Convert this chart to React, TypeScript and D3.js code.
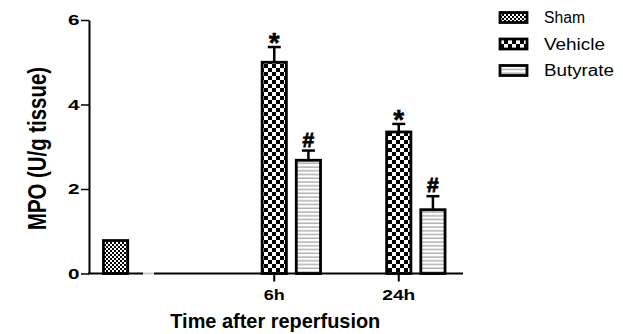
import React, { useRef, useEffect } from 'react'
import * as d3 from 'd3'

const groups = ['', '6h', '24h']
const series = ['Sham', 'Vehicle', 'Butyrate']
const shamValues: (number | null)[] = [0.78, null, null]
const vehicleValues: (number | null)[] = [null, 5.0, 3.35]
const butyrateValues: (number | null)[] = [null, 2.68, 1.51]
const vehicleErrors: (number | null)[] = [null, 0.36, 0.19]
const butyrateErrors: (number | null)[] = [null, 0.23, 0.32]
const vehicleMarks: (string | null)[] = [null, '*', '*']
const butyrateMarks: (string | null)[] = [null, '#', '#']
const yTicks = [0, 2, 4, 6]

const FONT = '"Liberation Sans", Arial, sans-serif'

export default function App() {
  const svgRef = useRef<SVGSVGElement>(null)

  useEffect(() => {
    const width = 623
    const height = 334
    const svg = d3.select(svgRef.current)
    svg.selectAll('*').remove()
    svg.attr('viewBox', `0 0 ${width} ${height}`)

    const defs = svg.append('defs')
    // fine checker for Sham
    const p1 = defs.append('pattern').attr('id', 'pSham').attr('patternUnits', 'userSpaceOnUse')
      .attr('width', 4).attr('height', 4)
    p1.append('rect').attr('width', 4).attr('height', 4).attr('fill', '#fff')
    p1.append('rect').attr('width', 2).attr('height', 2).attr('fill', '#000')
    p1.append('rect').attr('x', 2).attr('y', 2).attr('width', 2).attr('height', 2).attr('fill', '#000')
    // coarse checker for Vehicle
    const p2 = defs.append('pattern').attr('id', 'pVehicle').attr('patternUnits', 'userSpaceOnUse')
      .attr('width', 8).attr('height', 8)
    p2.append('rect').attr('width', 8).attr('height', 8).attr('fill', '#fff')
    p2.append('rect').attr('width', 4).attr('height', 4).attr('fill', '#000')
    p2.append('rect').attr('x', 4).attr('y', 4).attr('width', 4).attr('height', 4).attr('fill', '#000')
    // horizontal lines for Butyrate
    const p3 = defs.append('pattern').attr('id', 'pButyrate').attr('patternUnits', 'userSpaceOnUse')
      .attr('width', 4).attr('height', 3.75)
    p3.append('rect').attr('width', 4).attr('height', 3.75).attr('fill', '#fff')
    p3.append('rect').attr('y', 1.5).attr('width', 4).attr('height', 1).attr('fill', '#8a8a8a')

    const fills: Record<string, string> = {
      Sham: 'url(#pSham)',
      Vehicle: 'url(#pVehicle)',
      Butyrate: 'url(#pButyrate)',
    }

    const y = d3.scaleLinear().domain([0, 6]).range([273.5, 20])
    const x0 = d3.scaleBand().domain(groups).range([98.5, 450]).paddingInner(0.177).paddingOuter(0)
    const x1 = d3.scaleBand().domain(series).range([0, x0.bandwidth()]).paddingInner(0.29).paddingOuter(0.145)
    const bw = x1.bandwidth()

    // y axis
    const yAxis = svg.append('g')
      .attr('transform', 'translate(89,0)')
      .call(d3.axisLeft(y).tickValues(yTicks).tickSize(8).tickSizeOuter(0).tickPadding(1.5).tickFormat(d3.format('d')))
    yAxis.select('.domain').attr('stroke-width', 2)
    yAxis.selectAll('.tick line').attr('stroke-width', 1.5)
    yAxis.selectAll('.tick text')
      .attr('font-family', FONT).attr('font-weight', 'bold').attr('font-size', 15.5)
      .attr('fill', '#000').attr('textLength', 11.5).attr('lengthAdjust', 'spacingAndGlyphs')

    // x baseline (with small break)
    const base = y(0)
    svg.append('line').attr('x1', 88).attr('x2', 143).attr('y1', base).attr('y2', base)
      .attr('stroke', '#000').attr('stroke-width', 2)
    svg.append('line').attr('x1', 143).attr('x2', 154).attr('y1', base).attr('y2', base)
      .attr('stroke', '#ccc').attr('stroke-width', 2)
    svg.append('line').attr('x1', 154).attr('x2', 463).attr('y1', base).attr('y2', base)
      .attr('stroke', '#000').attr('stroke-width', 2)

    // x ticks and labels
    groups.forEach((g) => {
      if (!g) return
      const cx = (x0(g) as number) + (x1('Vehicle') as number) + bw / 2
      svg.append('line').attr('x1', cx).attr('x2', cx).attr('y1', base).attr('y2', base + 8)
        .attr('stroke', '#000').attr('stroke-width', 2)
      svg.append('text').attr('x', cx).attr('y', 299.5).attr('text-anchor', 'middle')
        .attr('font-family', FONT).attr('font-weight', 'bold').attr('font-size', 15.5)
        .attr('textLength', g.length === 2 ? 21 : 33).attr('lengthAdjust', 'spacingAndGlyphs')
        .text(g)
    })

    const seriesData: [string, (number | null)[], (number | null)[] | null, (string | null)[] | null][] = [
      ['Sham', shamValues, null, null],
      ['Vehicle', vehicleValues, vehicleErrors, vehicleMarks],
      ['Butyrate', butyrateValues, butyrateErrors, butyrateMarks],
    ]

    seriesData.forEach(([name, vals, errs, marks]) => {
      vals.forEach((v, i) => {
        if (v == null) return
        const bx = (x0(groups[i]) as number) + (x1(name) as number)
        const cx = bx + bw / 2
        if (errs && errs[i] != null) {
          const et = y(v + (errs[i] as number))
          svg.append('line').attr('x1', cx).attr('x2', cx).attr('y1', y(v)).attr('y2', et)
            .attr('stroke', '#000').attr('stroke-width', 2.5)
          svg.append('line').attr('x1', cx - 6.5).attr('x2', cx + 6.5).attr('y1', et).attr('y2', et)
            .attr('stroke', '#000').attr('stroke-width', 2.5)
          const m = marks ? marks[i] : null
          if (m === '*') {
            svg.append('text').attr('x', cx).attr('y', et + 5).attr('text-anchor', 'middle')
              .attr('font-family', FONT).attr('font-weight', 'bold').attr('font-size', 28)
              .attr('stroke', '#000').attr('stroke-width', 0.5).text(m)
          } else if (m) {
            svg.append('text').attr('x', cx).attr('y', et - 4).attr('text-anchor', 'middle')
              .attr('font-family', FONT).attr('font-weight', 'bold').attr('font-size', 21)
              .attr('stroke', '#000').attr('stroke-width', 0.8).text(m)
          }
        }
        svg.append('rect')
          .attr('x', bx).attr('y', y(v)).attr('width', bw).attr('height', y(0) - y(v))
          .attr('fill', fills[name]).attr('stroke', '#000').attr('stroke-width', 2.8)
      })
    })

    // axis titles
    svg.append('text').attr('transform', 'translate(45.5,148.5) scale(1.25,1) rotate(-90)')
      .attr('text-anchor', 'middle').attr('font-family', FONT).attr('font-weight', 'bold')
      .attr('font-size', 20.5).attr('textLength', 163).attr('lengthAdjust', 'spacingAndGlyphs')
      .text('MPO (U/g tissue)')
    svg.append('text').attr('x', 275.3).attr('y', 328.3).attr('text-anchor', 'middle')
      .attr('font-family', FONT).attr('font-weight', 'bold').attr('font-size', 21)
      .attr('textLength', 210).attr('lengthAdjust', 'spacingAndGlyphs')
      .text('Time after reperfusion')

    // legend
    const legendLens = [41, 61, 70]
    series.forEach((s, i) => {
      const cy = 17.5 + i * 26.5
      svg.append('rect').attr('x', 500).attr('y', cy - 5).attr('width', 27).attr('height', 10)
        .attr('fill', fills[s]).attr('stroke', '#000').attr('stroke-width', 2.8)
      svg.append('text').attr('x', 544).attr('y', cy + 5.5)
        .attr('font-family', FONT).attr('font-size', 16)
        .attr('textLength', legendLens[i]).attr('lengthAdjust', 'spacingAndGlyphs')
        .text(s)
    })
  }, [])

  return (
    <svg ref={svgRef} width={623} height={334}
      style={{ position: 'absolute', left: 0, top: 0, background: '#fff', display: 'block' }} />
  )
}
